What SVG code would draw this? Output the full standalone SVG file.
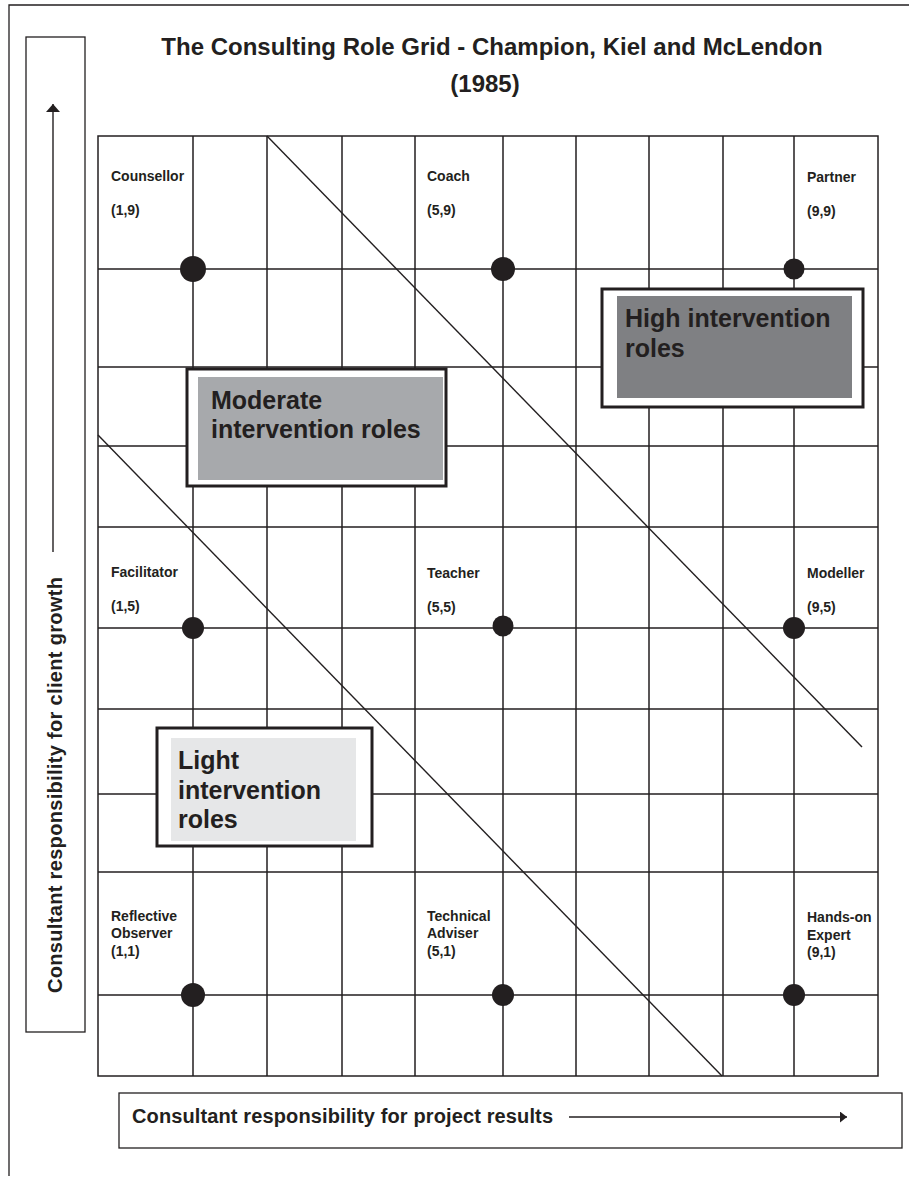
<svg xmlns="http://www.w3.org/2000/svg" width="909" height="1180" viewBox="0 0 909 1180">
<style>
  .ln{stroke:#231f20;stroke-width:1.4;fill:none}
  .gl{stroke:#231f20;stroke-width:1.5;fill:none}
  .frame{stroke:#231f20;stroke-width:1.3;fill:none}
  .dot{fill:#231f20}
  .t{font-family:"Liberation Sans",Arial,sans-serif;font-weight:bold;fill:#231f20}
  .lab{font-size:14px}
  .big{font-size:25px}
  .ax{font-size:20px}
  .title{font-size:24px}
  .boxo{fill:#ffffff;stroke:#231f20;stroke-width:3}
</style>
<defs>
  <marker id="ahv" viewBox="0 0 8 14" refX="8" refY="7" markerWidth="8" markerHeight="14" markerUnits="userSpaceOnUse" orient="auto">
    <path d="M0,0 L8,7 L0,14 z" fill="#231f20"/>
  </marker>
  <marker id="ahh" viewBox="0 0 7 11" refX="7" refY="5.5" markerWidth="7" markerHeight="11" markerUnits="userSpaceOnUse" orient="auto">
    <path d="M0,0 L7,5.5 L0,11 z" fill="#231f20"/>
  </marker>
</defs>
<rect width="909" height="1180" fill="#ffffff"/>
<g id="frame">
  <polyline class="frame" points="9,1176 9,5 909,5"/>
</g>
<g id="title">
  <text class="t title" x="492" y="55" text-anchor="middle">The Consulting Role Grid - Champion, Kiel and McLendon</text>
  <text class="t title" x="485" y="92" text-anchor="middle">(1985)</text>
</g>
<g id="y-axis">
  <rect class="frame" x="26" y="37" width="59" height="995"/>
  <text class="t ax" transform="translate(62,993) rotate(-90)" textLength="416" lengthAdjust="spacing">Consultant responsibility for client growth</text>
</g>
<g id="x-axis">
  <rect class="frame" x="119" y="1093" width="783" height="55"/>
  <text class="t ax" x="132" y="1123" textLength="421" lengthAdjust="spacing">Consultant responsibility for project results</text>
</g>
<g id="grid">
  <rect class="gl" x="98" y="136" width="780" height="940"/>
  <path class="gl" d="M193,136V1076 M267,136V1076 M342,136V1076 M415,136V1076 M503,136V1076 M576,136V1076 M649,136V1076 M723,136V1076 M794,136V1076"/>
  <path class="gl" d="M98,269H878 M98,367H878 M98,446H878 M98,527H878 M98,628H878 M98,709H878 M98,794H878 M98,872H878 M98,995H878"/>
</g>
<g id="connectors">
  <line class="ln" x1="53" y1="552" x2="53" y2="104" marker-end="url(#ahv)"/>
  <line class="ln" x1="569" y1="1117" x2="847" y2="1117" marker-end="url(#ahh)"/>
  <line class="ln" x1="267" y1="136" x2="862" y2="747"/>
  <line class="ln" x1="98" y1="435" x2="722" y2="1076"/>
</g>
<g id="counsellor">
  <circle class="dot" cx="193" cy="269" r="13"/>
  <text class="t lab" x="111" y="181">Counsellor</text>
  <text class="t lab" x="111" y="215">(1,9)</text>
</g>
<g id="coach">
  <circle class="dot" cx="503" cy="269" r="12"/>
  <text class="t lab" x="427" y="181">Coach</text>
  <text class="t lab" x="427" y="215">(5,9)</text>
</g>
<g id="partner">
  <circle class="dot" cx="794" cy="269" r="10.5"/>
  <text class="t lab" x="807" y="182">Partner</text>
  <text class="t lab" x="807" y="216">(9,9)</text>
</g>
<g id="facilitator">
  <circle class="dot" cx="193" cy="628" r="11"/>
  <text class="t lab" x="111" y="577">Facilitator</text>
  <text class="t lab" x="111" y="611">(1,5)</text>
</g>
<g id="teacher">
  <circle class="dot" cx="503" cy="626" r="10.5"/>
  <text class="t lab" x="427" y="578">Teacher</text>
  <text class="t lab" x="427" y="612">(5,5)</text>
</g>
<g id="modeller">
  <circle class="dot" cx="794" cy="628" r="11"/>
  <text class="t lab" x="807" y="578">Modeller</text>
  <text class="t lab" x="807" y="612">(9,5)</text>
</g>
<g id="reflective-observer">
  <circle class="dot" cx="193" cy="995" r="12"/>
  <text class="t lab" x="111" y="921">Reflective</text>
  <text class="t lab" x="111" y="938">Observer</text>
  <text class="t lab" x="111" y="956">(1,1)</text>
</g>
<g id="technical-adviser">
  <circle class="dot" cx="503" cy="995" r="11"/>
  <text class="t lab" x="427" y="921">Technical</text>
  <text class="t lab" x="427" y="938">Adviser</text>
  <text class="t lab" x="427" y="956">(5,1)</text>
</g>
<g id="hands-on-expert">
  <circle class="dot" cx="794" cy="995" r="11"/>
  <text class="t lab" x="807" y="922">Hands-on</text>
  <text class="t lab" x="807" y="940">Expert</text>
  <text class="t lab" x="807" y="957">(9,1)</text>
</g>
<g id="high-intervention">
  <rect class="boxo" x="602" y="289" width="261" height="118"/>
  <rect x="617" y="296" width="235" height="102" fill="#7f8083"/>
  <text class="t big" x="625" y="327">High intervention</text>
  <text class="t big" x="625" y="357">roles</text>
</g>
<g id="moderate-intervention">
  <rect class="boxo" x="187" y="369" width="259" height="117"/>
  <rect x="198" y="377" width="245" height="103" fill="#a7a9ac"/>
  <text class="t big" x="211" y="409">Moderate</text>
  <text class="t big" x="211" y="438">intervention roles</text>
</g>
<g id="light-intervention">
  <rect class="boxo" x="157" y="728" width="215" height="118"/>
  <rect x="171" y="738" width="185" height="103" fill="#e6e7e8"/>
  <text class="t big" x="178" y="769">Light</text>
  <text class="t big" x="178" y="799">intervention</text>
  <text class="t big" x="178" y="828">roles</text>
</g>
</svg>
